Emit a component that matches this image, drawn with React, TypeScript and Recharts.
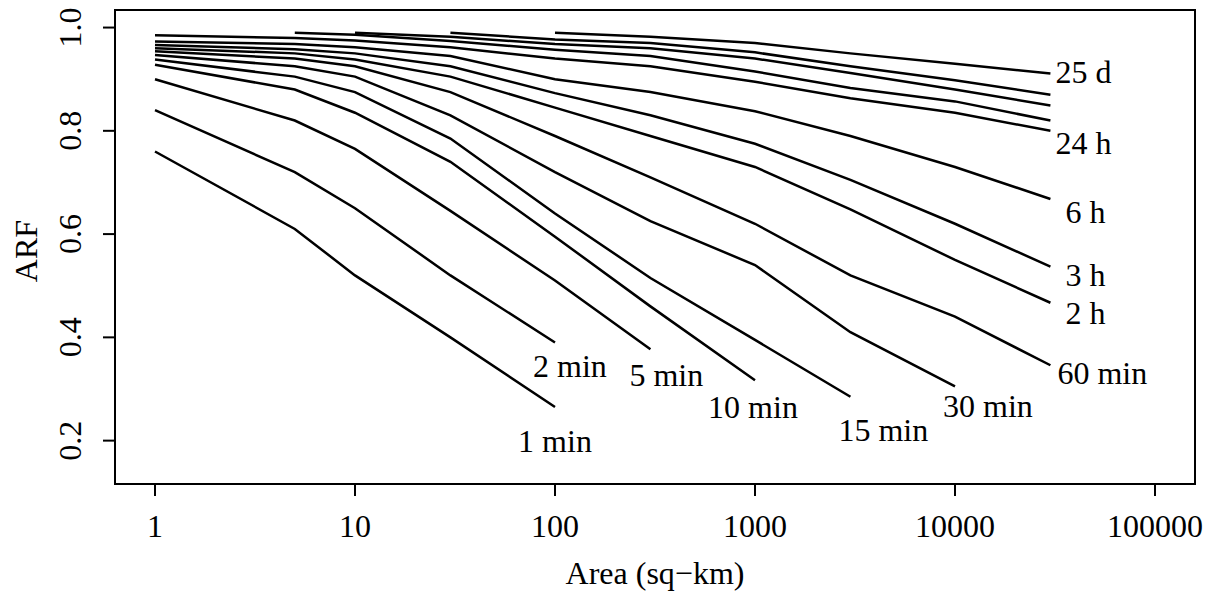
import React from "react";
import { LineChart, Line, XAxis, YAxis, ReferenceArea } from "recharts";

const AREAS = [1, 5, 10, 30, 100, 300, 1000, 3000, 10000, 30000];
const X_TICKS = [1, 10, 100, 1000, 10000, 100000];
const Y_TICKS = [0.2, 0.4, 0.6, 0.8, 1.0];

const ARF_1MIN = [0.76, 0.61, 0.52, 0.4, 0.265, null, null, null, null, null];
const ARF_2MIN = [0.84, 0.72, 0.65, 0.52, 0.39, null, null, null, null, null];
const ARF_5MIN = [0.9, 0.82, 0.765, 0.645, 0.51, 0.377, null, null, null, null];
const ARF_10MIN = [0.928, 0.88, 0.835, 0.74, 0.595, 0.46, 0.317, null, null, null];
const ARF_15MIN = [0.938, 0.905, 0.875, 0.785, 0.64, 0.515, 0.395, 0.285, null, null];
const ARF_30MIN = [0.947, 0.925, 0.905, 0.83, 0.72, 0.625, 0.54, 0.41, 0.305, null];
const ARF_60MIN = [0.954, 0.94, 0.925, 0.875, 0.79, 0.71, 0.62, 0.52, 0.44, 0.346];
const ARF_2H = [0.96, 0.95, 0.938, 0.905, 0.845, 0.79, 0.73, 0.648, 0.55, 0.467];
const ARF_3H = [0.966, 0.958, 0.95, 0.925, 0.873, 0.83, 0.775, 0.705, 0.62, 0.537];
const ARF_6H = [0.973, 0.968, 0.962, 0.945, 0.9, 0.875, 0.838, 0.79, 0.73, 0.668];
const ARF_24H = [0.985, 0.98, 0.975, 0.962, 0.94, 0.925, 0.895, 0.863, 0.835, 0.8];
const ARF_D1 = [null, 0.99, 0.986, 0.974, 0.957, 0.945, 0.915, 0.883, 0.857, 0.82];
const ARF_D2 = [null, null, 0.99, 0.982, 0.968, 0.96, 0.94, 0.912, 0.88, 0.849];
const ARF_D3 = [null, null, null, 0.99, 0.977, 0.97, 0.952, 0.925, 0.898, 0.87];
const ARF_25D = [null, null, null, null, 0.99, 0.982, 0.97, 0.95, 0.93, 0.911];

const SERIES: { name: string; label: string; values: (number | null)[] }[] = [
  { name: "1 min", label: "1 min", values: ARF_1MIN },
  { name: "2 min", label: "2 min", values: ARF_2MIN },
  { name: "5 min", label: "5 min", values: ARF_5MIN },
  { name: "10 min", label: "10 min", values: ARF_10MIN },
  { name: "15 min", label: "15 min", values: ARF_15MIN },
  { name: "30 min", label: "30 min", values: ARF_30MIN },
  { name: "60 min", label: "60 min", values: ARF_60MIN },
  { name: "2 h", label: "2 h", values: ARF_2H },
  { name: "3 h", label: "3 h", values: ARF_3H },
  { name: "6 h", label: "6 h", values: ARF_6H },
  { name: "24 h", label: "24 h", values: ARF_24H },
  { name: "d1", label: "", values: ARF_D1 },
  { name: "d2", label: "", values: ARF_D2 },
  { name: "d3", label: "", values: ARF_D3 },
  { name: "25 d", label: "25 d", values: ARF_25D },
];

// label placement styles (offsets from each curve's last point)
const LABEL_STYLE: Record<string, { dx: number; dy: number; anchor: "start" | "middle" }> = {
  "1 min": { dx: 0, dy: 45, anchor: "middle" },
  "2 min": { dx: -22, dy: 34, anchor: "start" },
  "5 min": { dx: -21, dy: 37, anchor: "start" },
  "10 min": { dx: -2, dy: 38, anchor: "middle" },
  "15 min": { dx: -12, dy: 44, anchor: "start" },
  "30 min": { dx: -12, dy: 31, anchor: "start" },
  "60 min": { dx: 7, dy: 19, anchor: "start" },
  "2 h": { dx: 15, dy: 21, anchor: "start" },
  "3 h": { dx: 15, dy: 19, anchor: "start" },
  "6 h": { dx: 15, dy: 24, anchor: "start" },
  "24 h": { dx: 5, dy: 23, anchor: "start" },
  "25 d": { dx: 5, dy: 9, anchor: "start" },
};

const FONT = '"Liberation Serif", "Times New Roman", serif';
const FS = 32;
const X_MIN = Math.pow(10, -0.2);
const X_MAX = Math.pow(10, 5.2);
const Y_MIN = 0.116;
const Y_MAX = 1.034;

const XTick = (props: any) => {
  const { x, y, payload } = props;
  return (
    <text x={x} y={y + 41} textAnchor="middle" fontFamily={FONT} fontSize={FS} fill="#000">
      {String(payload.value)}
    </text>
  );
};

const YTick = (props: any) => {
  const { x, y, payload } = props;
  const bx = x - 22;
  return (
    <text x={bx} y={y} transform={`rotate(-90, ${bx}, ${y})`} textAnchor="middle" fontFamily={FONT} fontSize={FS} fill="#000">
      {Number(payload.value).toFixed(1)}
    </text>
  );
};

export default function App() {
  return (
    <div style={{ position: "absolute", left: 0, top: 0, width: 1220, height: 594, background: "#fff" }}>
      <LineChart width={1220} height={594} margin={{ top: 10, right: 25, bottom: 0, left: 0 }}>
        <XAxis
          type="number"
          dataKey="area"
          scale="log"
          domain={[X_MIN, X_MAX]}
          allowDataOverflow
          ticks={X_TICKS}
          height={110}
          tickSize={12}
          tickMargin={0}
          axisLine={false}
          tickLine={{ stroke: "#000", strokeWidth: 2 }}
          tick={<XTick />}
          interval={0}
          label={{
            value: "Area (sq\u2212km)",
            content: (p: any) => {
              const vb = p.viewBox;
              return (
                <text x={vb.x + vb.width / 2} y={vb.y + 100} textAnchor="middle" fontFamily={FONT} fontSize={FS} fill="#000">
                  Area (sq−km)
                </text>
              );
            },
          }}
        />
        <YAxis
          type="number"
          domain={[Y_MIN, Y_MAX]}
          allowDataOverflow
          ticks={Y_TICKS}
          width={115}
          tickSize={12}
          tickMargin={0}
          axisLine={false}
          tickLine={{ stroke: "#000", strokeWidth: 2 }}
          tick={<YTick />}
          interval={0}
          label={{
            value: "ARF",
            content: (p: any) => {
              const vb = p.viewBox;
              const lx = vb.x + 37;
              const ly = vb.y + vb.height / 2 + 4;
              return (
                <text x={lx} y={ly} transform={`rotate(-90, ${lx}, ${ly})`} textAnchor="middle" fontFamily={FONT} fontSize={FS} fill="#000">
                  ARF
                </text>
              );
            },
          }}
        />
        <ReferenceArea x1={X_MIN} x2={X_MAX} y1={Y_MIN} y2={Y_MAX} fill="none" fillOpacity={0} stroke="#000" strokeWidth={2} />
        {SERIES.map((s) => {
          const pts = AREAS.map((a, i) => ({ area: a, arf: s.values[i] })).filter((p) => p.arf !== null);
          const st = LABEL_STYLE[s.name];
          return (
            <Line
              key={s.name}
              data={pts}
              dataKey="arf"
              type="linear"
              stroke="#000"
              strokeWidth={2.5}
              dot={false}
              activeDot={false}
              isAnimationActive={false}
              label={(p: any) =>
                st && p.index === pts.length - 1 ? (
                  <text key={s.name + "-lbl"} x={p.x + st.dx} y={p.y + st.dy} textAnchor={st.anchor} fontFamily={FONT} fontSize={FS} fill="#000">
                    {s.label}
                  </text>
                ) : (
                  <g key={s.name + "-" + p.index} />
                )
              }
            />
          );
        })}
      </LineChart>
    </div>
  );
}
